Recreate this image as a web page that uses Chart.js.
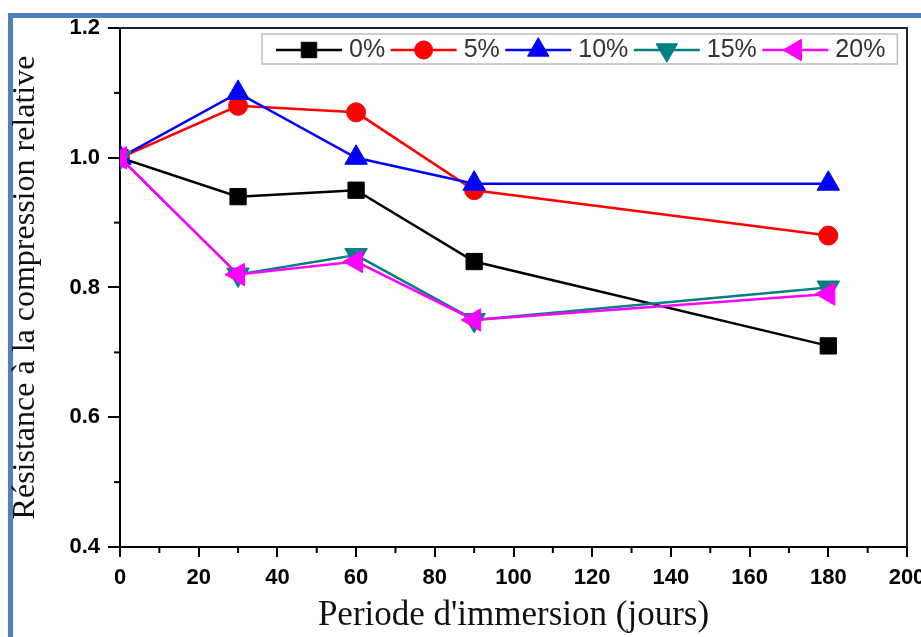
<!DOCTYPE html>
<html>
<head>
<meta charset="utf-8">
<script src="https://cdn.jsdelivr.net/npm/chart.js@4/dist/chart.umd.min.js"></script>
<style>
  html, body { margin: 0; padding: 0; background: #fff; overflow: hidden; }
  #cadre {
    position: absolute; left: 8px; top: 13px; width: 1000px; height: 620px;
    border-top: 5px solid #4f81bd; border-left: 5px solid #4f81bd;
    border-bottom: 1px solid #dce6f2;
  }
  #graphique { position: absolute; left: 0; top: 0; }
</style>
</head>
<body>
<div id="cadre"></div>
<canvas id="graphique" width="921" height="637"></canvas>
<script>
// Données
const jours = [0, 30, 60, 90, 180];
const taux = ['0%', '5%', '10%', '15%', '20%'];
const r0 = [1.00, 0.94, 0.95, 0.84, 0.71];
const r5 = [1.00, 1.08, 1.07, 0.95, 0.88];
const r10 = [1.00, 1.10, 1.00, 0.96, 0.96];
const r15 = [1.00, 0.82, 0.85, 0.75, 0.80];
const r20 = [1.00, 0.82, 0.84, 0.75, 0.79];
const xTicks = [0, 20, 40, 60, 80, 100, 120, 140, 160, 180, 200];
const yTicks = [0.4, 0.6, 0.8, 1.0, 1.2];

const serie = (label, vals, color, style, rot, rad, order) => ({
  label,
  data: jours.map((j, i) => ({ x: j, y: vals[i] })),
  borderColor: color,
  backgroundColor: color,
  borderWidth: 2.5,
  pointStyle: style,
  rotation: rot,
  pointRadius: rad,
  pointHoverRadius: rad,
  pointBorderWidth: 1,
  pointBackgroundColor: color,
  pointBorderColor: color,
  tension: 0,
  order
});

const datasets = [
  serie(taux[0], r0, '#000000', 'rect', 0, 11.5, 5),
  serie(taux[1], r5, '#ff0000', 'circle', 0, 9.5, 4),
  serie(taux[2], r10, '#0000ff', 'triangle', 0, 13, 3),
  serie(taux[3], r15, '#008080', 'triangle', 180, 13, 2),
  serie(taux[4], r20, '#ff00ff', 'triangle', -90, 13, 1)
];

// cadre du graphe + petites graduations
const cadrePlugin = {
  id: 'cadrePlugin',
  afterDraw(chart) {
    const { ctx, chartArea: a, scales } = chart;
    ctx.save();
    ctx.strokeStyle = '#222';
    ctx.lineWidth = 2;
    ctx.beginPath();
    ctx.moveTo(a.left, a.top);
    ctx.lineTo(a.right, a.top);
    ctx.lineTo(a.right, a.bottom);
    ctx.stroke();
    ctx.strokeStyle = '#000';
    ctx.lineWidth = 2;
    for (let i = 0; i < xTicks.length - 1; i++) {
      const px = scales.x.getPixelForValue((xTicks[i] + xTicks[i + 1]) / 2);
      ctx.beginPath();
      ctx.moveTo(px, a.bottom);
      ctx.lineTo(px, a.bottom + 6);
      ctx.stroke();
    }
    for (let i = 0; i < yTicks.length - 1; i++) {
      const py = scales.y.getPixelForValue((yTicks[i] + yTicks[i + 1]) / 2);
      ctx.beginPath();
      ctx.moveTo(a.left, py);
      ctx.lineTo(a.left - 6, py);
      ctx.stroke();
    }
    ctx.restore();
  }
};

// légende : trait + symbole comme dans Origin
const legendePlugin = {
  id: 'legendePlugin',
  afterDraw(chart) {
    const { ctx } = chart;
    const top = 34, h = 30, cy = top + h / 2 + 1;
    const lineLen = 66, gapText = 7, gapItem = 5.5;
    ctx.save();
    ctx.font = '25px "Liberation Sans", Arial, sans-serif';
    let x = 276;
    const items = chart.data.datasets.map(ds => {
      const w = ctx.measureText(ds.label).width;
      const it = { ds, x, w };
      x += lineLen + gapText + w + gapItem;
      return it;
    });
    const right = x - gapItem + 12;
    ctx.fillStyle = '#fff';
    ctx.fillRect(262, top, right - 262, h);
    ctx.strokeStyle = '#bdbdbd';
    ctx.lineWidth = 1.5;
    ctx.strokeRect(262, top, right - 262, h);
    items.forEach(({ ds, x, w }) => {
      ctx.strokeStyle = ds.borderColor;
      ctx.fillStyle = ds.borderColor;
      ctx.lineWidth = 2.5;
      ctx.beginPath();
      ctx.moveTo(x, cy);
      ctx.lineTo(x + lineLen, cy);
      ctx.stroke();
      ctx.lineWidth = 1;
      Chart.helpers.drawPoint(ctx, {
        pointStyle: ds.pointStyle,
        rotation: ds.rotation,
        radius: ds.pointRadius * 0.95,
        borderWidth: 1
      }, x + lineLen / 2, cy);
      ctx.fillStyle = '#333';
      ctx.textBaseline = 'middle';
      ctx.textAlign = 'left';
      ctx.fillText(ds.label, x + lineLen + gapText, cy);
    });
    ctx.restore();
  }
};

new Chart(document.getElementById('graphique'), {
  type: 'line',
  data: { datasets },
  plugins: [cadrePlugin, legendePlugin],
  options: {
    responsive: false,
    animation: false,
    devicePixelRatio: 1,
    layout: { padding: { left: 0, right: 12, top: 28, bottom: 0 } },
    plugins: { legend: { display: false }, tooltip: { enabled: false } },
    scales: {
      x: {
        type: 'linear',
        min: 0,
        max: 200,
        afterBuildTicks: s => { s.ticks = xTicks.map(v => ({ value: v })); },
        afterFit: s => { s.height = 90; s.paddingLeft = 0; s.paddingRight = 0; },
        border: { color: '#000', width: 2 },
        grid: { drawOnChartArea: false, drawTicks: true, tickLength: 10, color: '#000', lineWidth: 2 },
        ticks: {
          padding: 8,
          color: '#000',
          maxRotation: 0,
          autoSkip: false,
          font: { family: '"Liberation Sans", Arial, sans-serif', weight: 'bold', size: 22 }
        },
        title: {
          display: true,
          text: "Periode d'immersion (jours)",
          color: '#111',
          padding: { top: 0, bottom: 0 },
          font: { family: '"Liberation Serif", "Times New Roman", serif', size: 35 }
        }
      },
      y: {
        min: 0.4,
        max: 1.2,
        afterBuildTicks: s => { s.ticks = yTicks.map(v => ({ value: v })); },
        afterFit: s => { s.width = 120; },
        border: { color: '#000', width: 2 },
        grid: { drawOnChartArea: false, drawTicks: true, tickLength: 12, color: '#000', lineWidth: 2 },
        ticks: {
          padding: 8,
          color: '#000',
          callback: v => v.toFixed(1),
          font: { family: '"Liberation Sans", Arial, sans-serif', weight: 'bold', size: 22 }
        },
        title: {
          display: true,
          text: 'Résistance à la compression relative',
          color: '#111',
          padding: { top: 6, bottom: 0 },
          font: { family: '"Liberation Serif", "Times New Roman", serif', size: 32 }
        }
      }
    }
  }
});
</script>
</body>
</html>
